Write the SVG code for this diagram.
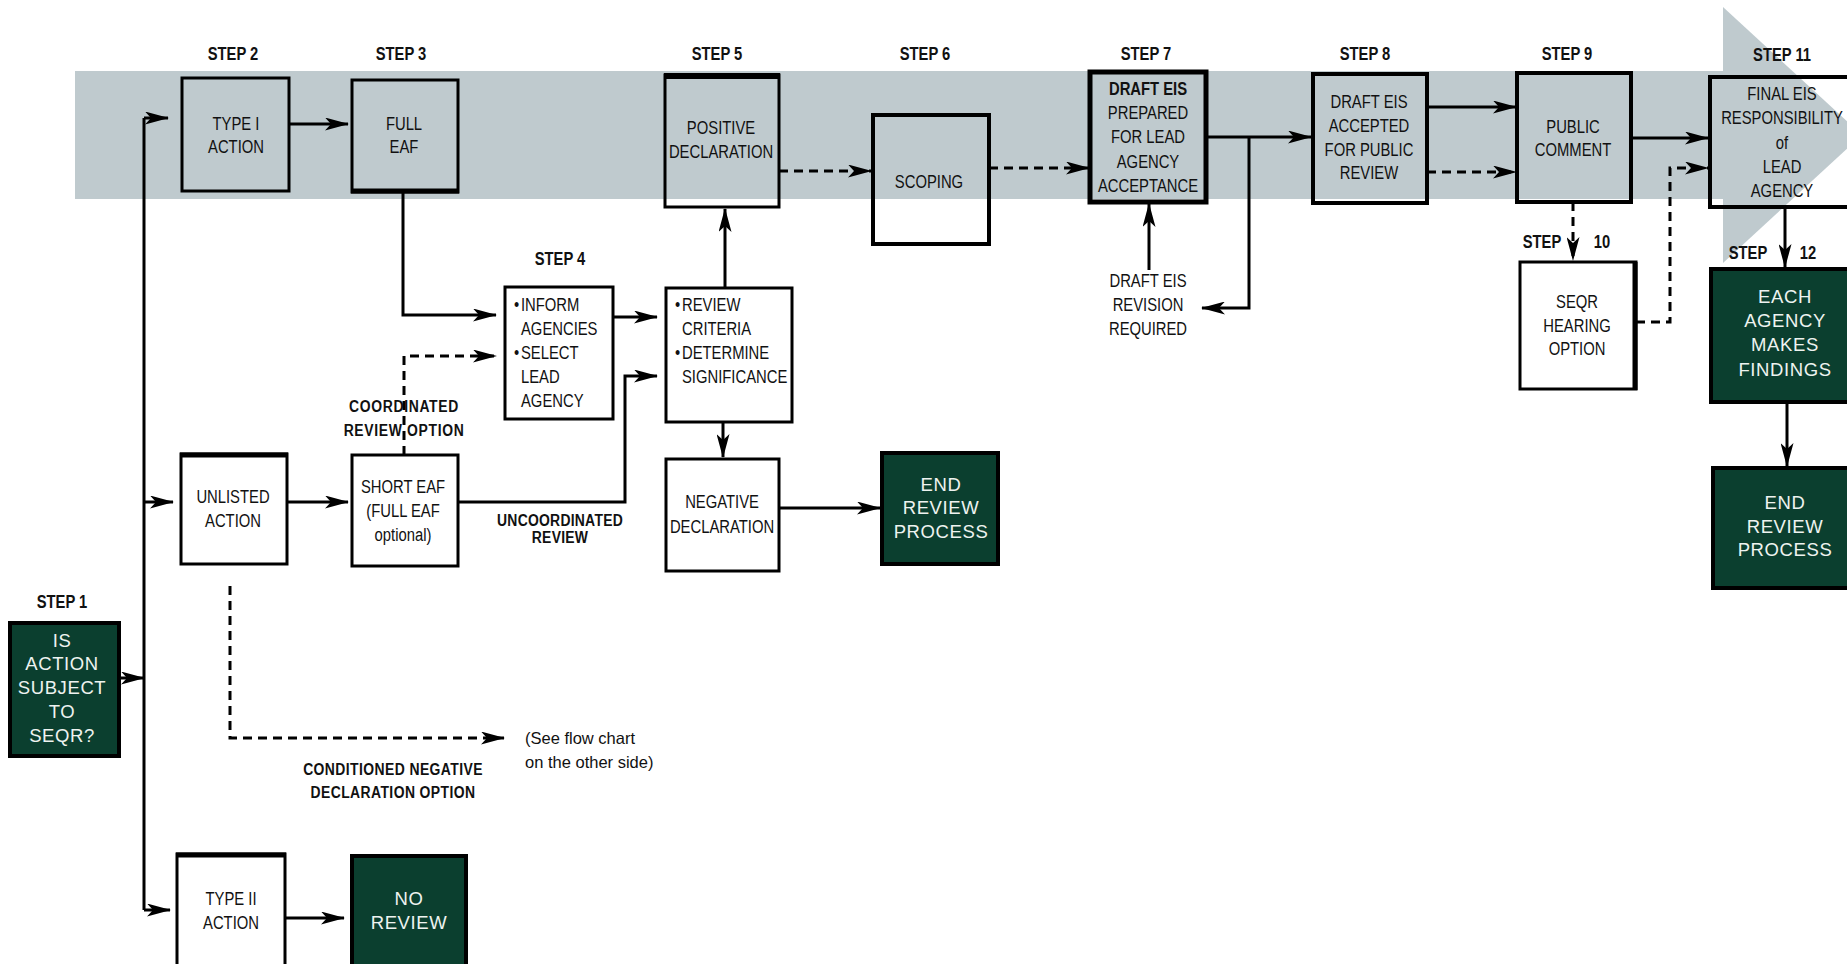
<svg xmlns="http://www.w3.org/2000/svg" width="1847" height="964" viewBox="0 0 1847 964">
<defs>
<style>
.box{fill:none;stroke:#000;stroke-width:3}
.thk{fill:none;stroke:#000;stroke-width:4}
.dk{fill:#0B3F2F;stroke:#000;stroke-width:4}
.c{stroke:#000;stroke-width:3;fill:none}
.d{stroke-dasharray:9 6}
.t{font-family:"Liberation Sans",Arial,sans-serif;font-size:19px;fill:#111;text-anchor:middle}
.l{text-anchor:start}
.b{font-weight:bold;font-size:18px}
.w{font-family:"Liberation Sans",Arial,sans-serif;font-size:18.5px;fill:#EEF3F0;text-anchor:middle;letter-spacing:0.6px}
.n{font-family:"Liberation Sans",Arial,sans-serif;font-size:16.5px;fill:#111}
</style>
<marker id="ah" markerUnits="userSpaceOnUse" viewBox="0 0 24 13" markerWidth="24" markerHeight="13" refX="23" refY="6.5" orient="auto"><path d="M0,0 L24,6.5 L0,13 L6,6.5 z" fill="#000"/></marker>
</defs>
<rect width="1847" height="964" fill="#fff"/>
<g id="band">
<rect x="75" y="71" width="1648" height="128" fill="#BFCACE"/>
<polygon points="1723,7 1862,135 1723,263" fill="#BFCACE"/>
</g>

<g id="labels">
<text class="t b" transform="translate(62 0) scale(0.82 1)"><tspan x="0" y="608">STEP 1</tspan></text>
<text class="t b" transform="translate(233 0) scale(0.82 1)"><tspan x="0" y="60">STEP 2</tspan></text>
<text class="t b" transform="translate(401 0) scale(0.82 1)"><tspan x="0" y="60">STEP 3</tspan></text>
<text class="t b" transform="translate(560 0) scale(0.82 1)"><tspan x="0" y="265">STEP 4</tspan></text>
<text class="t b" transform="translate(717 0) scale(0.82 1)"><tspan x="0" y="60">STEP 5</tspan></text>
<text class="t b" transform="translate(925 0) scale(0.82 1)"><tspan x="0" y="60">STEP 6</tspan></text>
<text class="t b" transform="translate(1146 0) scale(0.82 1)"><tspan x="0" y="60">STEP 7</tspan></text>
<text class="t b" transform="translate(1365 0) scale(0.82 1)"><tspan x="0" y="60">STEP 8</tspan></text>
<text class="t b" transform="translate(1567 0) scale(0.82 1)"><tspan x="0" y="60">STEP 9</tspan></text>
<text class="t b" transform="translate(1782 0) scale(0.82 1)"><tspan x="0" y="61">STEP 11</tspan></text>
<text class="t b" transform="translate(1542 0) scale(0.82 1)"><tspan x="0" y="248">STEP</tspan></text>
<text class="t b" transform="translate(1602 0) scale(0.82 1)"><tspan x="0" y="248">10</tspan></text>
<text class="t b" transform="translate(1748 0) scale(0.82 1)"><tspan x="0" y="259">STEP</tspan></text>
<text class="t b" transform="translate(1808 0) scale(0.82 1)"><tspan x="0" y="259">12</tspan></text>
<text class="t b" style="font-size:17px;letter-spacing:0.8px" transform="translate(404 0) scale(0.82 1)"><tspan x="0" y="412">COORDINATED</tspan><tspan x="0" y="436">REVIEW OPTION</tspan></text>
<text class="t b" style="font-size:17px;letter-spacing:0.3px" transform="translate(560 0) scale(0.82 1)"><tspan x="0" y="526">UNCOORDINATED</tspan><tspan x="0" y="543">REVIEW</tspan></text>
<text class="t b" style="font-size:17px;letter-spacing:0.5px" transform="translate(393 0) scale(0.82 1)"><tspan x="0" y="775">CONDITIONED NEGATIVE</tspan><tspan x="0" y="798">DECLARATION OPTION</tspan></text>
<text class="t" transform="translate(1148 0) scale(0.78 1)"><tspan x="0" y="287">DRAFT EIS</tspan><tspan x="0" y="311">REVISION</tspan><tspan x="0" y="335">REQUIRED</tspan></text>
<text class="n"><tspan x="525" y="744">(See flow chart</tspan><tspan x="525" y="768">on the other side)</tspan></text>
</g>

<g id="connectors">
<path class="c" d="M144,118 V910"/>
<path class="c" d="M144,118 H168" marker-end="url(#ah)"/>
<path class="c" d="M144,502 H173" marker-end="url(#ah)"/>
<path class="c" d="M144,910 H170" marker-end="url(#ah)"/>
<path class="c" d="M119,678 H144" marker-end="url(#ah)"/>
<path class="c" d="M289,124 H348" marker-end="url(#ah)"/>
<path class="c" d="M403,192 V315 H496" marker-end="url(#ah)"/>
<path class="c" d="M287,502 H348" marker-end="url(#ah)"/>
<path class="c d" d="M404,455 V356 H496" marker-end="url(#ah)"/>
<path class="c" d="M458,502 H625 V376 H657" marker-end="url(#ah)"/>
<path class="c" d="M613,317 H657" marker-end="url(#ah)"/>
<path class="c" d="M725,288 V209" marker-end="url(#ah)"/>
<path class="c" d="M723,422 V457" marker-end="url(#ah)"/>
<path class="c" d="M779,508 H880" marker-end="url(#ah)"/>
<path class="c d" d="M779,171 H871" marker-end="url(#ah)"/>
<path class="c d" d="M989,168 H1089" marker-end="url(#ah)"/>
<path class="c" d="M1206,137 H1311" marker-end="url(#ah)"/>
<path class="c" d="M1249,137 V308 H1202" marker-end="url(#ah)"/>
<path class="c" d="M1149,270 V204" marker-end="url(#ah)"/>
<path class="c" d="M1427,107 H1516" marker-end="url(#ah)"/>
<path class="c d" d="M1427,172 H1516" marker-end="url(#ah)"/>
<path class="c" d="M1631,138 H1708" marker-end="url(#ah)"/>
<path class="c d" d="M1573,202 V260" marker-end="url(#ah)"/>
<path class="c d" d="M1636,322 H1670 V168 H1708" marker-end="url(#ah)"/>
<path class="c" d="M1785,207 V267" marker-end="url(#ah)"/>
<path class="c" d="M1787,402 V466" marker-end="url(#ah)"/>
<path class="c d" d="M230,586 V738 H504" marker-end="url(#ah)"/>
<path class="c" d="M285,918 H344" marker-end="url(#ah)"/>
</g>

<g id="n-step1">
<rect class="dk" x="10" y="623" width="109" height="133"/>
<text class="w"><tspan x="62" y="647">IS</tspan><tspan x="62" y="670">ACTION</tspan><tspan x="62" y="694">SUBJECT</tspan><tspan x="62" y="718">TO</tspan><tspan x="62" y="742">SEQR?</tspan></text>
</g>
<g id="n-type1">
<rect class="box" x="182" y="78" width="107" height="113"/>
<text class="t" transform="translate(236 0) scale(0.78 1)"><tspan x="0" y="130">TYPE I</tspan><tspan x="0" y="153">ACTION</tspan></text>
</g>
<g id="n-fulleaf">
<rect class="box" x="352" y="80" width="106" height="112"/>
<path class="c" style="stroke-width:5" d="M351,191 H459"/>
<text class="t" transform="translate(404 0) scale(0.78 1)"><tspan x="0" y="130">FULL</tspan><tspan x="0" y="153">EAF</tspan></text>
</g>
<g id="n-unlisted">
<rect class="box" x="181" y="454" width="106" height="110"/>
<path class="c" style="stroke-width:5" d="M180,455 H288"/>
<text class="t" transform="translate(233 0) scale(0.78 1)"><tspan x="0" y="503">UNLISTED</tspan><tspan x="0" y="527">ACTION</tspan></text>
</g>
<g id="n-shorteaf">
<rect class="box" x="352" y="455" width="106" height="111"/>
<text class="t" transform="translate(403 0) scale(0.78 1)"><tspan x="0" y="493">SHORT EAF</tspan><tspan x="0" y="517">(FULL EAF</tspan><tspan x="0" y="541">optional)</tspan></text>
</g>
<g id="n-type2">
<rect class="box" x="177" y="854" width="108" height="125"/>
<path class="c" style="stroke-width:5" d="M176,855 H286"/>
<text class="t" transform="translate(231 0) scale(0.78 1)"><tspan x="0" y="905">TYPE II</tspan><tspan x="0" y="929">ACTION</tspan></text>
</g>
<g id="n-noreview">
<rect class="dk" x="352" y="856" width="114" height="125"/>
<text class="w"><tspan x="409" y="905">NO</tspan><tspan x="409" y="929">REVIEW</tspan></text>
</g>
<g id="n-step4">
<rect class="box" x="505" y="287" width="108" height="132"/>
<text class="t l" transform="translate(521 0) scale(0.78 1)"><tspan x="-9" y="311">•</tspan><tspan x="0" y="311">INFORM</tspan><tspan x="0" y="335">AGENCIES</tspan><tspan x="-9" y="359">•</tspan><tspan x="0" y="359">SELECT</tspan><tspan x="0" y="383">LEAD</tspan><tspan x="0" y="407">AGENCY</tspan></text>
</g>
<g id="n-review">
<rect class="box" x="666" y="288" width="126" height="134"/>
<text class="t l" transform="translate(682 0) scale(0.78 1)"><tspan x="-9" y="311">•</tspan><tspan x="0" y="311">REVIEW</tspan><tspan x="0" y="335">CRITERIA</tspan><tspan x="-9" y="359">•</tspan><tspan x="0" y="359">DETERMINE</tspan><tspan x="0" y="383">SIGNIFICANCE</tspan></text>
</g>
<g id="n-negative">
<rect class="box" x="666" y="459" width="113" height="112"/>
<text class="t" transform="translate(722 0) scale(0.78 1)"><tspan x="0" y="508">NEGATIVE</tspan><tspan x="0" y="533">DECLARATION</tspan></text>
</g>
<g id="n-end1">
<rect class="dk" x="882" y="453" width="116" height="111"/>
<text class="w"><tspan x="941" y="491">END</tspan><tspan x="941" y="514">REVIEW</tspan><tspan x="941" y="538">PROCESS</tspan></text>
</g>
<g id="n-positive">
<rect class="box" x="665" y="75" width="114" height="132"/>
<path class="c" style="stroke-width:6" d="M664,76 H780"/>
<text class="t" transform="translate(721 0) scale(0.78 1)"><tspan x="0" y="134">POSITIVE</tspan><tspan x="0" y="158">DECLARATION</tspan></text>
</g>
<g id="n-scoping">
<rect class="thk" x="873" y="115" width="116" height="129"/>
<text class="t" transform="translate(929 0) scale(0.78 1)"><tspan x="0" y="188">SCOPING</tspan></text>
</g>
<g id="n-draft">
<rect class="thk" style="stroke-width:5" x="1090" y="72" width="116" height="130"/>
<text class="t" transform="translate(1148 0) scale(0.78 1)"><tspan style="font-weight:bold" x="0" y="95">DRAFT EIS</tspan><tspan x="0" y="119">PREPARED</tspan><tspan x="0" y="143">FOR LEAD</tspan><tspan x="0" y="168">AGENCY</tspan><tspan x="0" y="192">ACCEPTANCE</tspan></text>
</g>
<g id="n-accepted">
<rect class="thk" x="1313" y="74" width="114" height="129"/>
<text class="t" transform="translate(1369 0) scale(0.78 1)"><tspan x="0" y="108">DRAFT EIS</tspan><tspan x="0" y="132">ACCEPTED</tspan><tspan x="0" y="156">FOR PUBLIC</tspan><tspan x="0" y="179">REVIEW</tspan></text>
</g>
<g id="n-public">
<rect class="thk" x="1517" y="73" width="114" height="129"/>
<text class="t" transform="translate(1573 0) scale(0.78 1)"><tspan x="0" y="133">PUBLIC</tspan><tspan x="0" y="156">COMMENT</tspan></text>
</g>
<g id="n-seqr">
<rect class="box" x="1520" y="262" width="116" height="127"/>
<path class="c" style="stroke-width:5" d="M1635,262 V390"/>
<text class="t" transform="translate(1577 0) scale(0.78 1)"><tspan x="0" y="308">SEQR</tspan><tspan x="0" y="332">HEARING</tspan><tspan x="0" y="355">OPTION</tspan></text>
</g>
<g id="n-final">
<rect class="thk" x="1710" y="77" width="160" height="130"/>
<text class="t" transform="translate(1782 0) scale(0.78 1)"><tspan x="0" y="100">FINAL EIS</tspan><tspan x="0" y="124">RESPONSIBILITY</tspan><tspan x="0" y="149">of</tspan><tspan x="0" y="173">LEAD</tspan><tspan x="0" y="197">AGENCY</tspan></text>
</g>
<g id="n-each">
<rect class="dk" x="1711" y="269" width="160" height="133"/>
<text class="w"><tspan x="1785" y="303">EACH</tspan><tspan x="1785" y="327">AGENCY</tspan><tspan x="1785" y="351">MAKES</tspan><tspan x="1785" y="376">FINDINGS</tspan></text>
</g>
<g id="n-end2">
<rect class="dk" x="1713" y="468" width="160" height="120"/>
<text class="w"><tspan x="1785" y="509">END</tspan><tspan x="1785" y="533">REVIEW</tspan><tspan x="1785" y="556">PROCESS</tspan></text>
</g>
</svg>
